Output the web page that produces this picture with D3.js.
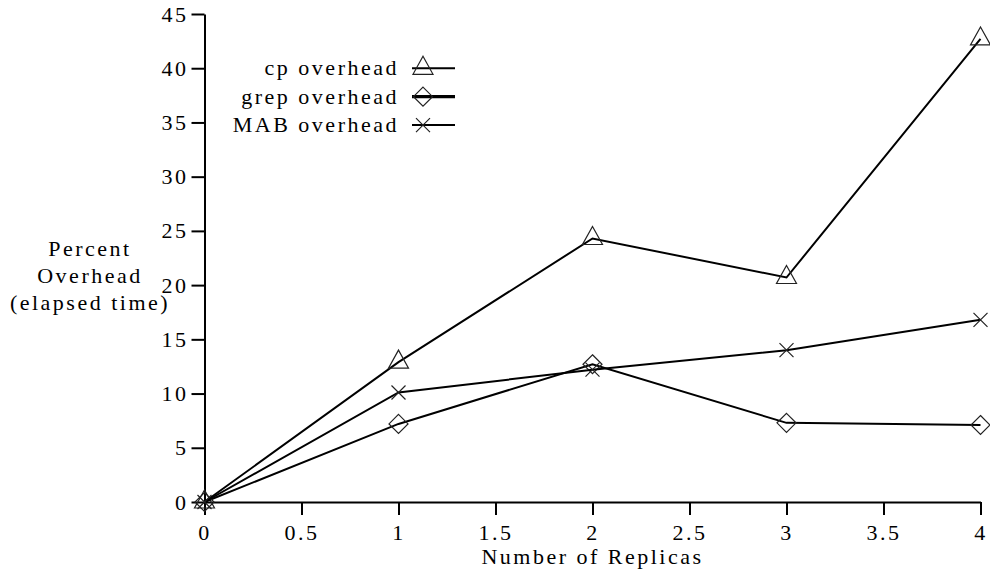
<!DOCTYPE html>
<html>
<head>
<meta charset="utf-8">
<script src="https://cdn.jsdelivr.net/npm/d3@7"></script>
<style>
  body { margin: 0; background: #fff; }
  text { font-family: "Liberation Serif", "Times New Roman", serif; font-size: 22px; letter-spacing: 2.5px; fill: #000; }
</style>
</head>
<body>
<div id="chart"></div>
<script>
// data
var replicas = [0, 1, 2, 3, 4];
var cpOverhead = [0, 12.9, 24.3, 20.7, 42.7];
var grepOverhead = [0, 7.2, 12.7, 7.3, 7.1];
var mabOverhead = [0, 10.1, 12.2, 14.0, 16.8];
var xTicks = [0, 0.5, 1, 1.5, 2, 2.5, 3, 3.5, 4];
var yTicks = [0, 5, 10, 15, 20, 25, 30, 35, 40, 45];
var seriesNames = ["cp overhead", "grep overhead", "MAB overhead"];
var yLabelLines = ["Percent", "Overhead", "(elapsed time)"];

var svgWidth = 990;
var svgHeight = 578;

var svg = d3.select("#chart")
  .append("svg")
  .attr("width", svgWidth)
  .attr("height", svgHeight);

var x = d3.scaleLinear().domain([0, 4]).range([204.5, 980.5]);
var y = d3.scaleLinear().domain([0, 45]).range([502, 14]);

// axes
var yAxis = d3.axisLeft(y).tickValues(yTicks).tickSize(13).tickSizeOuter(0).tickPadding(3);
var xAxis = d3.axisBottom(x).tickValues(xTicks).tickSize(13).tickSizeOuter(0).tickPadding(9)
  .tickFormat(d3.format("~g"));

var gy = svg.append("g").attr("transform", `translate(${x(0)},0)`).call(yAxis);
var gx = svg.append("g").attr("transform", `translate(0,${y(0)})`).call(xAxis);

[gx, gy].forEach(function(g) {
  g.attr("font-family", null).attr("font-size", null);
  g.select(".domain").attr("stroke", "#000").attr("stroke-width", 2);
  g.selectAll(".tick line").attr("stroke", "#000").attr("stroke-width", 2);
  g.selectAll("text").attr("fill", "#000");
});
gy.selectAll(".tick text").attr("dy", "0.32em");

// axis titles
svg.append("text")
  .attr("x", (x(0) + x(4)) / 2)
  .attr("y", 564)
  .attr("text-anchor", "middle")
  .text("Number of Replicas");

svg.append("g").selectAll("text")
  .data(yLabelLines)
  .enter()
  .append("text")
  .attr("x", 90)
  .attr("y", (d, i) => 256 + i * 27)
  .attr("text-anchor", "middle")
  .text(d => d);

// marker shapes
function triangle(g) {
  g.append("path").attr("d", "M0,-12L10,6L-10,6Z");
}
function diamond(g) {
  g.append("path").attr("d", "M0,-9.5L9.5,0L0,9.5L-9.5,0Z");
}
function cross(g) {
  g.append("path").attr("d", "M-7,-7L7,7M-7,7L7,-7");
}

var series = [
  { name: seriesNames[0], values: cpOverhead, marker: triangle, legendWidth: 2 },
  { name: seriesNames[1], values: grepOverhead, marker: diamond, legendWidth: 3.2 },
  { name: seriesNames[2], values: mabOverhead, marker: cross, legendWidth: 2 }
];

var line = d3.line()
  .x((d, i) => x(replicas[i]))
  .y(d => y(d));

series.forEach(function(s) {
  svg.append("path")
    .datum(s.values)
    .attr("fill", "none")
    .attr("stroke", "#000")
    .attr("stroke-width", 2)
    .attr("d", line);

  svg.append("g").selectAll("g")
    .data(s.values)
    .enter()
    .append("g")
    .attr("transform", (d, i) => `translate(${x(replicas[i])},${y(d)})`)
    .attr("fill", "none")
    .attr("stroke", "#222")
    .attr("stroke-width", 1.2)
    .each(function() { s.marker(d3.select(this)); });
});

// legend
var legend = svg.append("g");
series.forEach(function(s, i) {
  var ly = 68.3 + i * 28.4;
  legend.append("text")
    .attr("x", 399)
    .attr("y", ly + 7)
    .attr("text-anchor", "end")
    .text(s.name);
  legend.append("line")
    .attr("x1", 412).attr("x2", 455)
    .attr("y1", ly).attr("y2", ly)
    .attr("stroke", "#000")
    .attr("stroke-width", s.legendWidth);
  var m = legend.append("g")
    .attr("transform", `translate(423,${ly})`)
    .attr("fill", "none")
    .attr("stroke", "#222")
    .attr("stroke-width", 1.2);
  s.marker(m);
});
</script>
</body>
</html>
